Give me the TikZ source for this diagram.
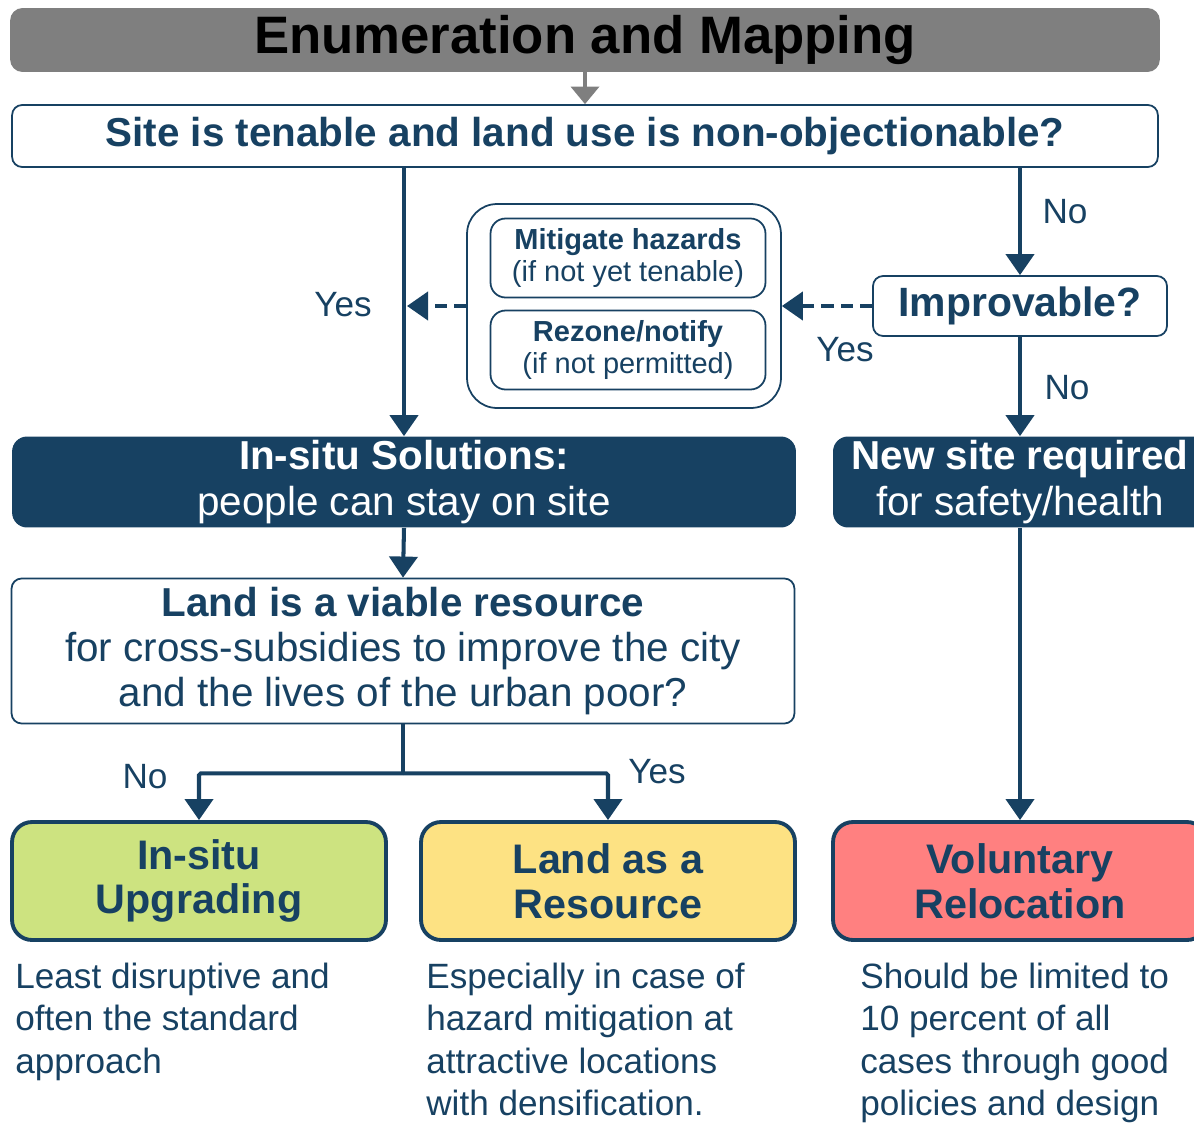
\documentclass[tikz,border=0pt]{standalone}
\usepackage{fontspec}
\setmainfont{Liberation Sans}
\usetikzlibrary{arrows.meta,calc}
\definecolor{FlowBlue}{RGB}{23,65,98}
\definecolor{HeadGray}{RGB}{127,127,127}
\definecolor{UpgrGreen}{RGB}{205,227,128}
\definecolor{ResYellow}{RGB}{253,226,131}
\definecolor{RelocRed}{RGB}{255,128,128}

\begin{document}
\begin{tikzpicture}[x=0.02cm,y=-0.02cm,
  qbox/.style={draw=FlowBlue,line width=1pt,rounded corners=0.2cm,fill=white,
    text=FlowBlue,align=center,inner sep=0pt},
  darkbox/.style={fill=FlowBlue,rounded corners=0.3cm,text=white,align=center,
    inner sep=0pt,minimum height=1.82cm,font=\fontsize{23}{26}\selectfont},
  result/.style={draw=FlowBlue,line width=2.2pt,rounded corners=0.4cm,text=FlowBlue,
    align=center,inner sep=0pt,minimum width=7.48cm,minimum height=2.36cm,
    font=\fontsize{23.5}{25.5}\selectfont\bfseries},
  note/.style={anchor=north west,align=left,text=FlowBlue,inner sep=0pt,
    font=\fontsize{20}{24}\selectfont},
  lbl/.style={text=FlowBlue,font=\fontsize{20}{22}\selectfont,inner sep=0pt},
  flow/.style={draw=FlowBlue,line width=2.3pt,-{Triangle[width=16pt,length=12pt]}},
  dflow/.style={flow,dash pattern=on 7pt off 4pt}]

\useasboundingbox (0,0) rectangle (1194,1123);
\clip (0,0) rectangle (1194,1123);

\node[fill=HeadGray,rounded corners=0.25cm,minimum width=23cm,minimum height=1.28cm,
  inner sep=0pt,font=\fontsize{30}{32}\selectfont\bfseries] (enum) at (585,40)
  {Enumeration and Mapping};
\node[qbox,minimum width=22.92cm,minimum height=1.24cm,
  font=\fontsize{23}{25}\selectfont\bfseries] (site) at (585,136)
  {Site is tenable and land use is non-objectionable?};
\node[qbox,minimum width=5.88cm,minimum height=1.2cm,
  font=\fontsize{23.3}{25}\selectfont\bfseries] (improv) at (1020,306) {Improvable?};

\node[qbox,rounded corners=0.6cm,minimum width=6.28cm,minimum height=4.08cm] (mitig) at (624,306) {};
\node[qbox,rounded corners=0.3cm,minimum width=5.5cm,minimum height=1.58cm,
  font=\fontsize{16.5}{18}\selectfont] (hazard) at (628,258)
  {\textbf{Mitigate hazards}\\(if not yet tenable)};
\node[qbox,rounded corners=0.3cm,minimum width=5.5cm,minimum height=1.58cm,
  font=\fontsize{16.5}{18}\selectfont] (rezone) at (628,350)
  {\textbf{Rezone/notify}\\(if not permitted)};

\node[darkbox,minimum width=15.68cm] (insitu) at (404,482)
  {\textbf{In-situ Solutions:}\\people can stay on site};
\node[darkbox,minimum width=7.48cm] (newsite) at (1020,482)
  {\textbf{New site required}\\for safety/health};

\node[qbox,minimum width=15.66cm,minimum height=2.9cm,
  font=\fontsize{23}{25.5}\selectfont] (viable) at (403,651)
  {\textbf{Land is a viable resource}\\for cross-subsidies to improve the city\\and the lives of the urban poor?};

\node[result,fill=UpgrGreen] (upgr) at (199,881) {In-situ\\Upgrading};
\node[result,fill=ResYellow] (landres) at (608,881) {Land as a\\Resource};
\node[result,fill=RelocRed] (reloc) at (1020,881) {Voluntary\\Relocation};

\node[note] (upgrnote) at (15,963)
  {Least disruptive and\\often the standard\\approach};
\node[note] (landnote) at (426,963)
  {Especially in case of\\hazard mitigation at\\attractive locations\\with densification.};
\node[note] (relocnote) at (860,963)
  {Should be limited to\\10 percent of all\\cases through good\\policies and design};

\draw[HeadGray,line width=2pt,-{Triangle[width=16pt,length=10pt]}] (enum.south) -- (site.north);

\draw[flow] (site.south -| insitu.north) -- (insitu.north);
\draw[flow] (site.south -| improv.north) -- (improv.north);
\draw[flow] (improv.south) -- (newsite.north);
\draw[dflow] (improv.west) -- (mitig.east);
\draw[dflow] (mitig.west) -- ($(mitig.west -| insitu.north)+(3,0)$);
\draw[flow] (insitu.south) -- (viable.north);
\draw[flow] (newsite.south) -- (reloc.north);

\coordinate (split) at ($(viable.south)+(0,49)$);
\draw[FlowBlue,line width=2.3pt] (viable.south) -- (split);
\draw[flow,rounded corners=1pt] (split) -| (upgr.north);
\draw[flow,rounded corners=1pt] (split) -| (landres.north);

\node[lbl] (noA) at (1065,212) {No};
\node[lbl] (yesA) at (845,350) {Yes};
\node[lbl] (yesB) at (343,305) {Yes};
\node[lbl] (noB) at (1067,388) {No};
\node[lbl] (noC) at (145,777) {No};
\node[lbl] (yesC) at (657,772) {Yes};

\end{tikzpicture}
\end{document}
